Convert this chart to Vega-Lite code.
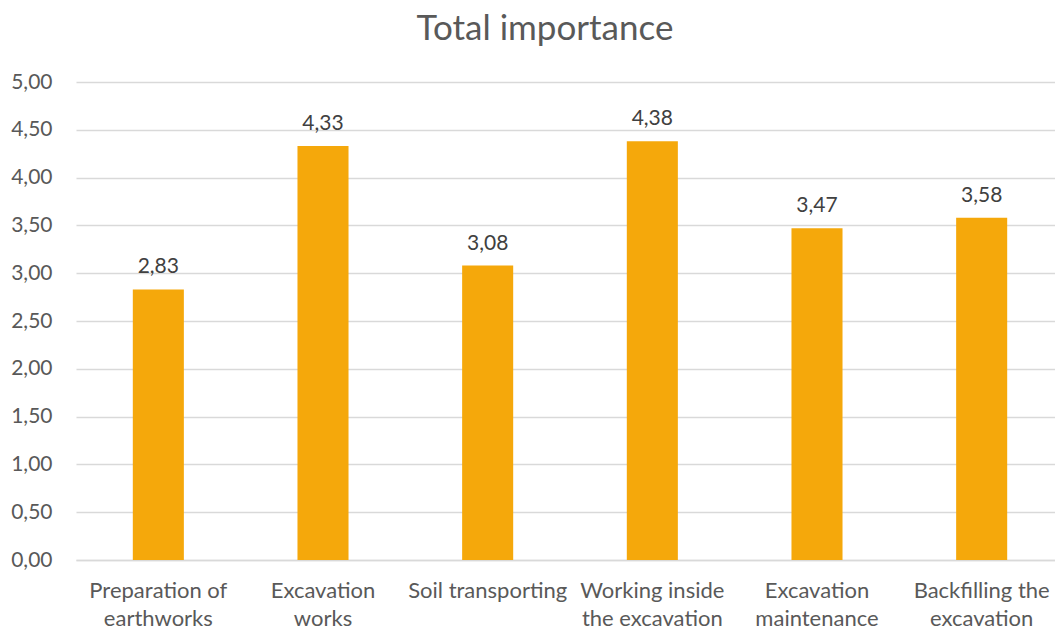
{
  "$schema": "https://vega.github.io/schema/vega-lite/v6.json",
  "width": 988,
  "height": 478,
  "autosize": {"type": "none"},
  "padding": {"left": 76, "top": 82, "right": 0, "bottom": 71},
  "background": "white",
  "title": {
    "text": "Total importance",
    "font": "Lato",
    "fontSize": 35,
    "fontWeight": "normal",
    "color": "#595959",
    "anchor": "middle",
    "dx": -25,
    "offset": 24
  },
  "config": {
    "view": {"stroke": null},
    "locale": {
      "number": {"decimal": ",", "thousands": ".", "grouping": [3], "currency": ["", " €"]}
    }
  },
  "data": {
    "values": [
      {"task": "Preparation of|earthworks", "importance": 2.83},
      {"task": "Excavation|works", "importance": 4.33},
      {"task": "Soil transporting", "importance": 3.08},
      {"task": "Working inside|the excavation", "importance": 4.38},
      {"task": "Excavation|maintenance", "importance": 3.47},
      {"task": "Backfilling the|excavation", "importance": 3.58}
    ]
  },
  "encoding": {
    "x": {
      "field": "task",
      "type": "nominal",
      "sort": null,
      "scale": {"paddingInner": 0.69, "paddingOuter": 0.345},
      "axis": {
        "title": null,
        "labelAngle": 0,
        "labelExpr": "split(datum.label, '|')",
        "labelFont": "Lato",
        "labelFontSize": 22,
        "labelColor": "#595959",
        "labelLineHeight": 28,
        "labelPadding": 20,
        "ticks": false,
        "domainColor": "#D9D9D9",
        "domainWidth": 1.5
      }
    },
    "y": {
      "field": "importance",
      "type": "quantitative",
      "scale": {"domain": [0, 5], "nice": false},
      "axis": {
        "title": null,
        "values": [0, 0.5, 1, 1.5, 2, 2.5, 3, 3.5, 4, 4.5, 5],
        "format": ".2f",
        "labelFont": "Lato",
        "labelFontSize": 21,
        "labelColor": "#595959",
        "labelPadding": 24,
        "ticks": false,
        "domain": false,
        "gridColor": "#D9D9D9",
        "gridWidth": 1.5
      }
    }
  },
  "layer": [
    {"mark": {"type": "bar", "color": "#F5A80B"}},
    {
      "mark": {
        "type": "text",
        "baseline": "bottom",
        "dy": -12,
        "font": "Lato",
        "fontSize": 21,
        "color": "#404040"
      },
      "encoding": {"text": {"field": "importance", "type": "quantitative", "format": ".2f"}}
    }
  ]
}
